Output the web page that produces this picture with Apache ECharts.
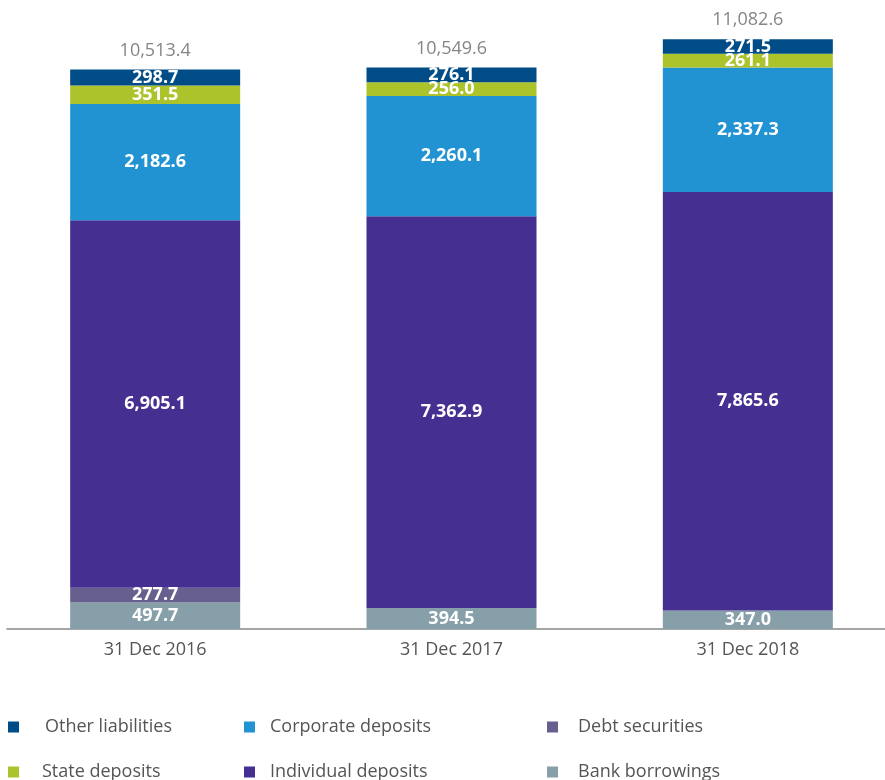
<!DOCTYPE html>
<html><head><meta charset="utf-8">
<script src="https://cdn.jsdelivr.net/npm/echarts@6/dist/echarts.min.js"></script>
<style>html,body{margin:0;padding:0;background:#fff;overflow:hidden}#c{width:896px;height:780px}</style>
</head><body><div id="c"></div>
<script>
const categories = ['31 Dec 2016', '31 Dec 2017', '31 Dec 2018'];
const bankBorrowings = [497.7, 394.5, 347.0];
const debtSecurities = [277.7, 0, 0];
const individualDeposits = [6905.1, 7362.9, 7865.6];
const corporateDeposits = [2182.6, 2260.1, 2337.3];
const stateDeposits = [351.5, 256.0, 261.1];
const otherLiabilities = [298.7, 276.1, 271.5];
const totals = [10513.4, 10549.6, 11082.6];

const FONT = '"Open Sans", "Noto Sans", sans-serif';
const fmt = v => v.toLocaleString('en-US', {minimumFractionDigits: 1, maximumFractionDigits: 1});

const seriesDefs = [
  {name: 'Bank borrowings', data: bankBorrowings, color: '#869fa9'},
  {name: 'Debt securities', data: debtSecurities, color: '#67608f'},
  {name: 'Individual deposits', data: individualDeposits, color: '#452f91'},
  {name: 'Corporate deposits', data: corporateDeposits, color: '#2193d3'},
  {name: 'State deposits', data: stateDeposits, color: '#adc32b'},
  {name: 'Other liabilities', data: otherLiabilities, color: '#004c86'}
];

const series = seriesDefs.map(s => ({
  type: 'bar', name: s.name, stack: 'a', data: s.data, barWidth: 170,
  itemStyle: {color: s.color},
  label: {
    show: true, position: 'inside', color: '#fff', fontFamily: FONT,
    fontWeight: 'bold', fontSize: 18,
    formatter: p => p.value > 0 ? fmt(p.value) : ''
  },
  emphasis: {disabled: true}
}));
series.push({
  type: 'scatter', name: 'Total', data: totals, symbolSize: 0,
  label: {show: true, position: 'top', distance: 10, color: '#666', fontFamily: FONT, fontSize: 18,
    formatter: p => fmt(p.value)},
  emphasis: {disabled: true}
});

const legendPos = [
  ['Other liabilities', 8, 718, 21], ['Corporate deposits', 244, 718, 10], ['Debt securities', 547, 718, 15],
  ['State deposits', 8, 763, 18], ['Individual deposits', 244, 763, 10], ['Bank borrowings', 547, 763, 15]
];
const legends = legendPos.map(([n, x, y, g]) => ({
  data: [n], left: x, top: y, padding: 0, icon: 'rect', itemWidth: 11, itemHeight: 11,
  selectedMode: false,
  textStyle: {fontFamily: FONT, fontSize: 18, color: '#555', padding: [0, 0, 0, g]}
}));

const chart = echarts.init(document.getElementById('c'), null, {renderer: 'canvas'});
chart.setOption({
  animation: false,
  grid: {left: 7, right: 0, top: 17, bottom: 151},
  legend: legends,
  xAxis: {
    type: 'category', data: categories,
    axisLine: {lineStyle: {color: '#888', width: 1.5}},
    axisTick: {show: false},
    axisLabel: {color: '#555', fontFamily: FONT, fontSize: 18, margin: 12}
  },
  yAxis: {type: 'value', min: 0, max: 11500, show: false},
  series: series
});
</script></body></html>
